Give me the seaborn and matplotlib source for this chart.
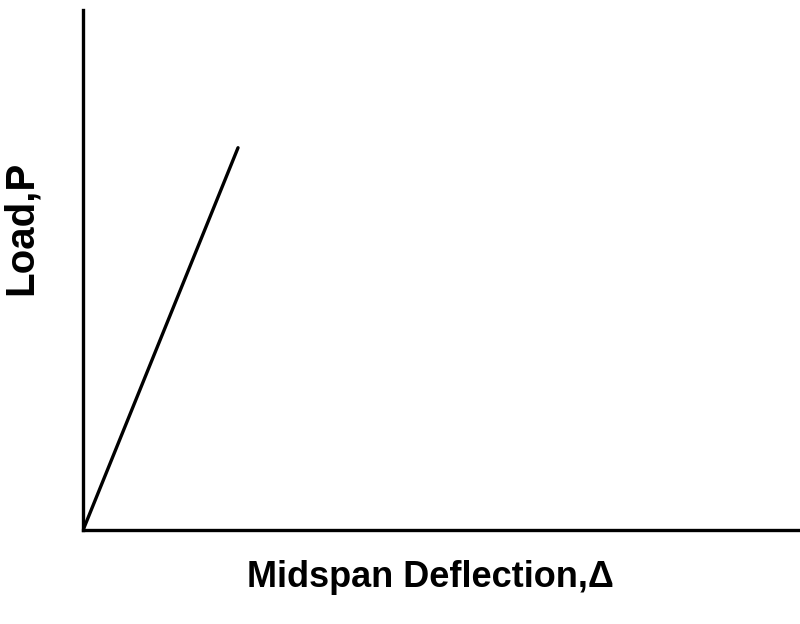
import matplotlib
matplotlib.use("Agg")
import matplotlib.pyplot as plt
import seaborn as sns
import pandas as pd

# Data (arbitrary units)
deflection = [0.0, 2.16]
load = [0.0, 7.35]
x_label = "Midspan Deflection,\u0394"
y_label = "Load,P"

sns.set_theme(style="white")
plt.rcParams['font.family'] = ['Liberation Sans', 'DejaVu Sans']

df = pd.DataFrame({"deflection": deflection, "load": load})

fig = plt.figure(figsize=(8, 6.24), dpi=100)
ax = fig.add_axes([0.104, 0.151, 0.896, 0.833])
sns.lineplot(data=df, x="deflection", y="load", color="black", linewidth=2.4, ax=ax)

ax.set_xlim(0, 10)
ax.set_ylim(0, 10)
ax.set_xticks([])
ax.set_yticks([])
sns.despine(ax=ax)
for side in ["left", "bottom"]:
    ax.spines[side].set_color("black")
    ax.spines[side].set_linewidth(2.4)

ax.set_xlabel(x_label, fontsize=26, fontweight="bold", color="black", va="center")
ax.set_ylabel(y_label, fontsize=29, fontweight="bold", color="black", va="center")
ax.xaxis.set_label_coords(0.484, -0.092)
ax.yaxis.set_label_coords(-0.0865, 0.581)

fig.savefig("out.png", dpi=100)
